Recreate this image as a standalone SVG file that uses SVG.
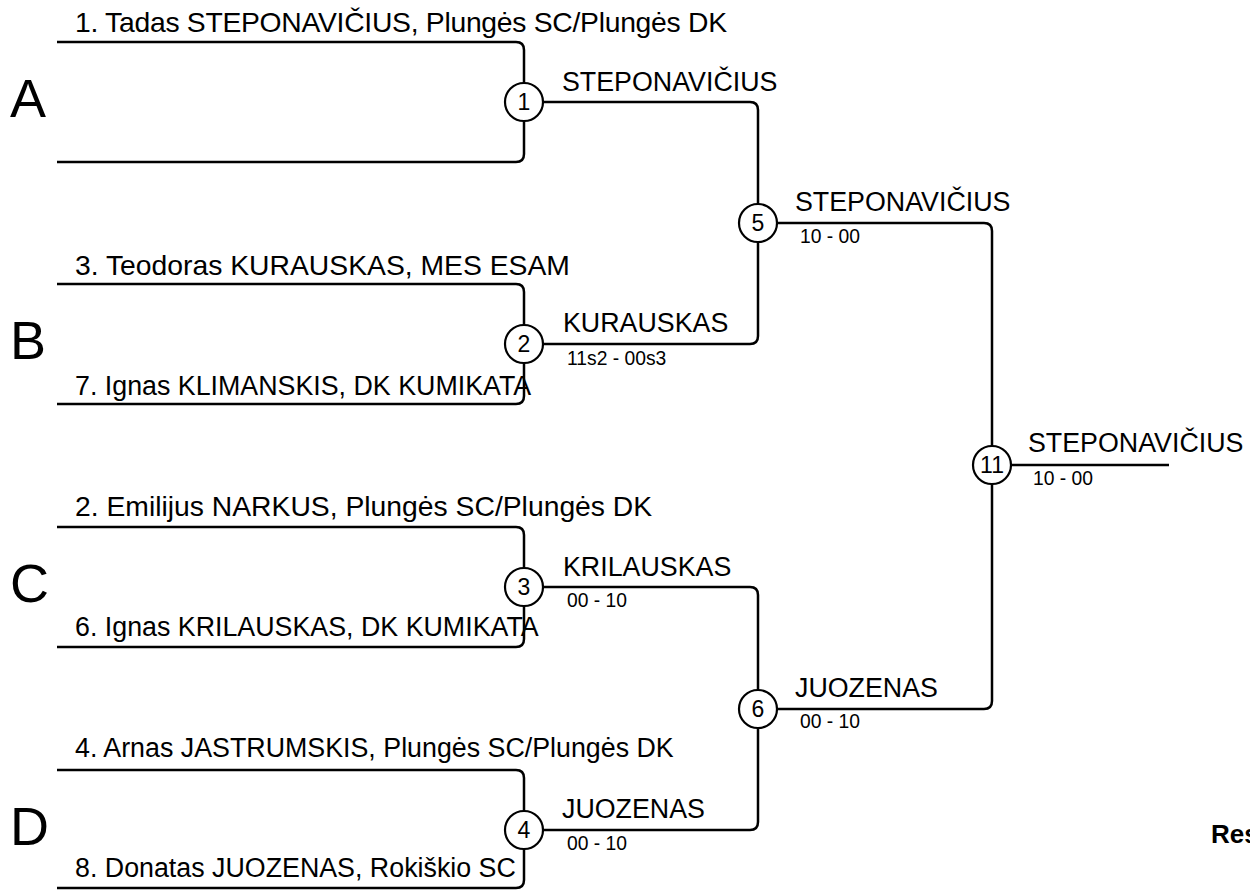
<svg xmlns="http://www.w3.org/2000/svg" width="1250" height="890" viewBox="0 0 1250 890">
<style>
.ln{fill:none;stroke:#000;stroke-width:2.5;}
.nd{fill:#fff;stroke:#000;stroke-width:2.2;}
.num{font-family:"Liberation Sans",Arial,sans-serif;font-size:23px;text-anchor:middle;fill:#000;}
.nm{font-family:"Liberation Sans",Arial,sans-serif;font-size:26.8px;fill:#000;}
.nmL{font-family:"Liberation Sans",Arial,sans-serif;font-size:28.3px;fill:#000;}
.sc{font-family:"Liberation Sans",Arial,sans-serif;font-size:19.3px;fill:#000;}
.grp{font-family:"Liberation Sans",Arial,sans-serif;font-size:54px;fill:#000;}
.res{font-family:"Liberation Sans",Arial,sans-serif;font-size:26px;font-weight:bold;fill:#000;}
</style>
<rect width="1250" height="890" fill="#fff"/>
<g id="groups">
<text class="grp" x="10" y="117">A</text>
<text class="grp" x="10" y="359">B</text>
<text class="grp" x="10" y="602">C</text>
<text class="grp" x="10" y="845">D</text>
</g>
<g id="connectors">
<path class="ln" d="M57,42 H516 Q524,42 524,50 V83"/>
<path class="ln" d="M57,162 H516 Q524,162 524,154 V121"/>
<path class="ln" d="M57,284 H516 Q524,284 524,292 V325"/>
<path class="ln" d="M57,404 H516 Q524,404 524,396 V363"/>
<path class="ln" d="M57,527 H516 Q524,527 524,535 V568"/>
<path class="ln" d="M57,647 H516 Q524,647 524,639 V606"/>
<path class="ln" d="M57,770 H516 Q524,770 524,778 V811"/>
<path class="ln" d="M57,888 H516 Q524,888 524,880 V849"/>
<path class="ln" d="M543,102 H750 Q758,102 758,110 V204"/>
<path class="ln" d="M543,344 H750 Q758,344 758,336 V242"/>
<path class="ln" d="M543,587 H750 Q758,587 758,595 V690"/>
<path class="ln" d="M543,830 H750 Q758,830 758,822 V728"/>
<path class="ln" d="M777,223 H984 Q992,223 992,231 V446"/>
<path class="ln" d="M777,709 H984 Q992,709 992,701 V484"/>
<path class="ln" d="M1011,465 H1169"/>
</g>
<g id="players">
<text class="nmL" x="75" y="32" textLength="652" lengthAdjust="spacing">1. Tadas STEPONAVIČIUS, Plungės SC/Plungės DK</text>
<text class="nmL" x="75" y="275">3. Teodoras KURAUSKAS, MES ESAM</text>
<text class="nm" x="75" y="395">7. Ignas KLIMANSKIS, DK KUMIKATA</text>
<text class="nmL" x="75" y="516">2. Emilijus NARKUS, Plungės SC/Plungės DK</text>
<text class="nm" x="75" y="636">6. Ignas KRILAUSKAS, DK KUMIKATA</text>
<text class="nm" x="75" y="757">4. Arnas JASTRUMSKIS, Plungės SC/Plungės DK</text>
<text class="nm" x="75" y="877">8. Donatas JUOZENAS, Rokiškio SC</text>
</g>
<g id="node1">
<circle class="nd" cx="524" cy="102" r="19"/>
<text class="num" x="524" y="110">1</text>
<text class="nm" x="562" y="91">STEPONAVIČIUS</text>
</g>
<g id="node2">
<circle class="nd" cx="524" cy="344" r="19"/>
<text class="num" x="524" y="352">2</text>
<text class="nm" x="563" y="332">KURAUSKAS</text>
<text class="sc" x="567" y="365">11s2 - 00s3</text>
</g>
<g id="node3">
<circle class="nd" cx="524" cy="587" r="19"/>
<text class="num" x="524" y="595">3</text>
<text class="nm" x="563" y="576">KRILAUSKAS</text>
<text class="sc" x="567" y="607">00 - 10</text>
</g>
<g id="node4">
<circle class="nd" cx="524" cy="830" r="19"/>
<text class="num" x="524" y="838">4</text>
<text class="nm" x="562" y="818">JUOZENAS</text>
<text class="sc" x="567" y="850">00 - 10</text>
</g>
<g id="node5">
<circle class="nd" cx="758" cy="223" r="19"/>
<text class="num" x="758" y="231">5</text>
<text class="nm" x="795" y="211">STEPONAVIČIUS</text>
<text class="sc" x="800" y="243">10 - 00</text>
</g>
<g id="node6">
<circle class="nd" cx="758" cy="709" r="19"/>
<text class="num" x="758" y="717">6</text>
<text class="nm" x="795" y="697">JUOZENAS</text>
<text class="sc" x="800" y="728">00 - 10</text>
</g>
<g id="node11">
<circle class="nd" cx="992" cy="465" r="19"/>
<text class="num" x="992" y="473">11</text>
<text class="nm" x="1028" y="452">STEPONAVIČIUS</text>
<text class="sc" x="1033" y="485">10 - 00</text>
</g>
<text class="res" x="1211" y="843">Res</text>
</svg>
